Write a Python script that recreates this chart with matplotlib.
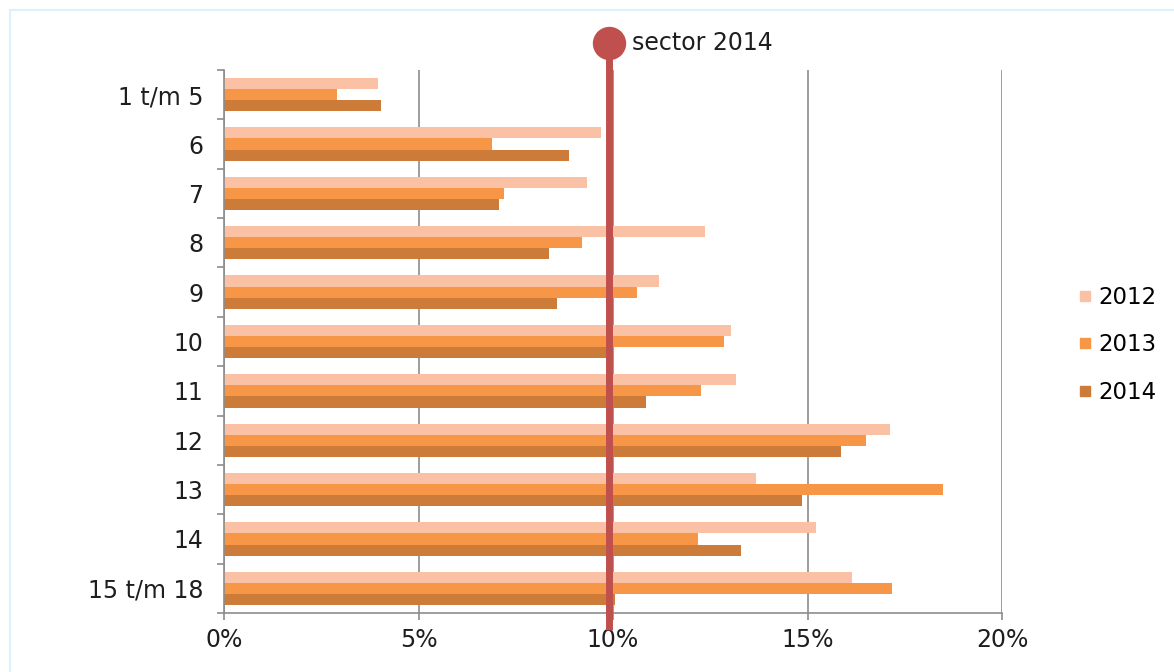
import numpy as np
import matplotlib.pyplot as plt
from matplotlib.patches import Rectangle
from matplotlib.lines import Line2D

# share per size class, in %
categories = ["1 t/m 5", "6", "7", "8", "9", "10", "11", "12", "13", "14", "15 t/m 18"]
years = ["2012", "2013", "2014"]
share_2012 = [3.96, 9.69, 9.33, 12.37, 11.18, 13.03, 13.16, 17.11, 13.68, 15.22, 16.14]
share_2013 = [2.91, 6.90, 7.19, 9.20, 10.61, 12.86, 12.27, 16.50, 18.49, 12.19, 17.18]
share_2014 = [4.04, 8.88, 7.07, 8.35, 8.56, 9.85, 10.86, 15.86, 14.85, 13.28, 10.06]
sector_2014 = 9.9

colors = ["#FAC1A4", "#F79646", "#CD7B39"]
red = "#C0504D"
grey = "#8C8C8C"
txt = "#1E1E1E"

fig = plt.figure(figsize=(11.74, 6.72), dpi=100)
fig.patches.append(Rectangle((10 / 1174, -0.1), 1.2, 1 - 10 / 672 + 0.1,
                             transform=fig.transFigure, fill=False,
                             edgecolor="#DDF1FB", linewidth=1.5))

ax = fig.add_axes([224 / 1174, 1 - 613 / 672, 778 / 1174, 543 / 672])

y = np.arange(len(categories))
h = 0.225
for i, (vals, c) in enumerate(zip([share_2012, share_2013, share_2014], colors)):
    ax.barh(y + (i - 1) * h, vals, height=h, color=c, label=years[i], zorder=2)

ax.set_xlim(0, 20)
ax.set_ylim(len(categories) - 0.5, -0.5)
ax.set_xticks([0, 5, 10, 15, 20])
ax.set_xticklabels([f"{v}%" for v in [0, 5, 10, 15, 20]])
ax.set_yticks(y)
ax.set_yticklabels(categories)
ax.set_yticks(np.arange(len(categories) + 1) - 0.5, minor=True)

ax.tick_params(axis="y", which="major", length=0, pad=15, labelsize=17, labelcolor=txt)
ax.tick_params(axis="y", which="minor", length=5, width=1.2, color=grey, direction="out")
ax.tick_params(axis="x", length=5, width=1.2, color=grey, direction="out", pad=6,
               labelsize=17, labelcolor=txt)

ax.grid(axis="x", color=grey, linewidth=1.2, zorder=1)
ax.set_axisbelow(True)
for s in ["top", "right"]:
    ax.spines[s].set_visible(False)
for s in ["left", "bottom"]:
    ax.spines[s].set_color(grey)
    ax.spines[s].set_linewidth(1.2)

# sector average line with marker on top
trans = ax.get_xaxis_transform()
ax.plot([sector_2014, sector_2014], [-0.031, 1.05], transform=trans, color=red,
        linewidth=5, clip_on=False, zorder=4, solid_capstyle="butt")
ax.plot([sector_2014], [1.05], transform=trans, marker="o", markersize=23,
        color=red, clip_on=False, zorder=5)
ax.text(sector_2014 + 0.58, 1.05, "sector 2014", transform=trans, va="center",
        ha="left", fontsize=17, color=txt)

handles = [Line2D([], [], marker="s", linestyle="", markersize=7.5, color=c) for c in colors]
fig.legend(handles, years, loc="center left", bbox_to_anchor=(1076 / 1174, 1 - 345 / 672),
           frameon=False, fontsize=16.5, labelspacing=1.05, handletextpad=0.17,
           handlelength=0.8, borderaxespad=0, borderpad=0)

fig.savefig("out.png", dpi=100)
